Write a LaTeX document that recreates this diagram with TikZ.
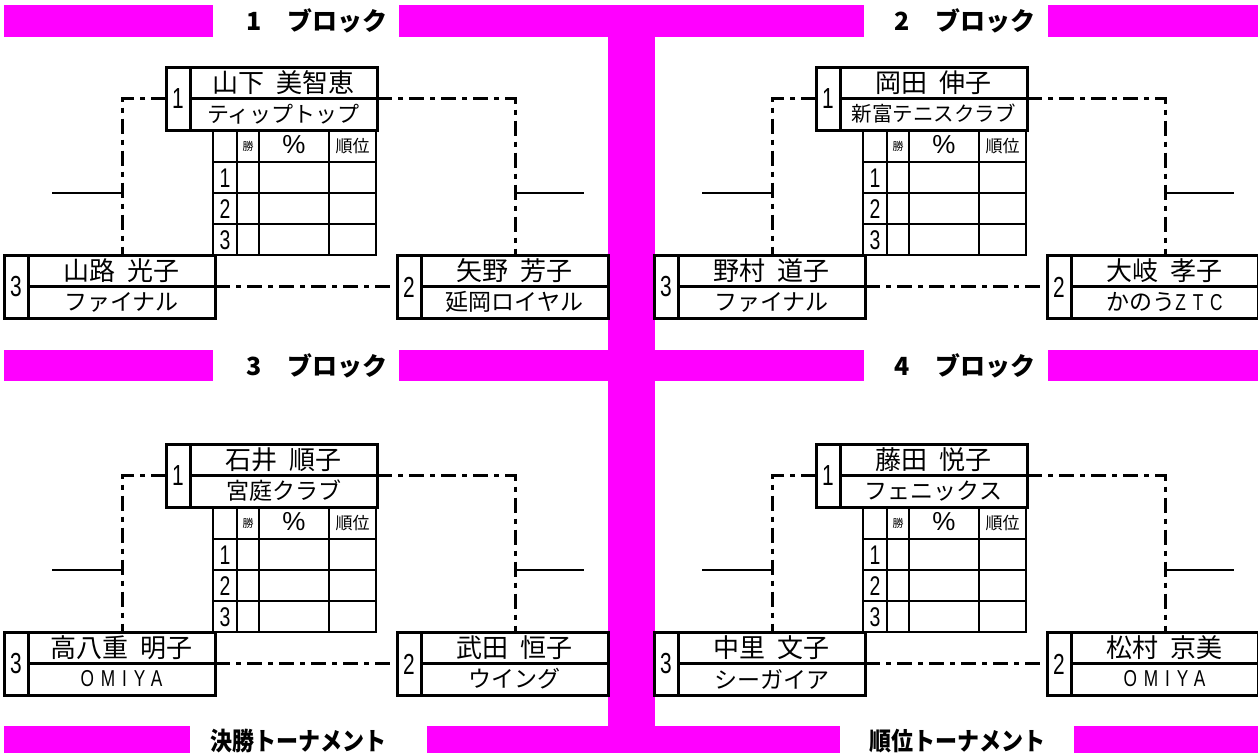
\documentclass[tikz,border=0pt]{standalone}
\usepackage{fontspec}
\usetikzlibrary{calc}
\newfontfamily\jp{Noto Sans CJK JP}
\newfontfamily\arn[FakeStretch=0.72]{Liberation Sans}
\newfontfamily\arls[FakeStretch=0.75,LetterSpace=30]{Liberation Sans}
\newfontfamily\ar{Liberation Sans}
\definecolor{mag}{RGB}{255,0,255}

\tikzset{
 every node/.style={inner sep=0pt, outer sep=0pt},
 bar/.style={fill=mag, draw=none},
 pbox/.style={draw, line width=3pt, minimum width=211pt, minimum height=63pt, anchor=north west},
 sepl/.style={line width=3pt},
 dd/.style={line width=3pt, dash pattern=on 15pt off 6pt on 5pt off 6pt},
 stub/.style={line width=2.6pt},
 tgrid/.style={line width=1.2pt},
 hd/.style={font=\jp\bfseries\fontsize{25}{25}\selectfont},
 hdb/.style={font=\jp\bfseries\fontsize{25}{25}\selectfont, xscale=0.88},
 nm/.style={font=\jp\fontsize{26}{26}\selectfont},
 cl/.style={font=\jp\fontsize{23}{23}\selectfont},
 sd/.style={font=\arn\fontsize{29}{29}\selectfont},
 tn/.style={font=\arn\fontsize{27}{27}\selectfont},
}

% #1 id, #2 x, #3 y, #4 seed, #5 name, #6 club
\newcommand\plbox[6]{%
 \node[pbox] (#1) at (#2,#3) {};
 \draw[sepl] ([xshift=24pt]#1.north west) -- ([xshift=24pt]#1.south west);
 \draw[sepl] ([xshift=24pt]#1.west) -- (#1.east);
 \node[sd] (#1-s) at (#2+12,#3+32) {#4};
 \node[nm] (#1-n) at (#2+117.5,#3+16) {\spaceskip=12pt\relax #5};
 \node[cl] (#1-c) at (#2+117.5,#3+47) {#6};
}

% #1 prefix, #2 dx, #3 dy, #4/#5 seed1, #6/#7 seed2, #8/#9 seed3
\newcommand\myblock[9]{%
\begin{scope}[shift={(#2,#3)}]
 \plbox{#1a}{166}{67}{1}{#4}{#5}
 \plbox{#1c}{4}{255}{3}{#8}{#9}
 \plbox{#1b}{397}{255}{2}{#6}{#7}
 % table
 \draw[tgrid] (213,130) rectangle (376,255);
 \foreach \x in {237,259,329} \draw[tgrid] (\x,130) -- (\x,255);
 \foreach \y in {162,193,224} \draw[tgrid] (213,\y) -- (376,\y);
 \node[font=\jp\fontsize{11}{11}\selectfont] (#1t-w) at (248,146) {勝};
 \node[font=\ar\fontsize{26}{26}\selectfont] (#1t-p) at (294,145) {\%};
 \node[font=\jp\fontsize{17}{17}\selectfont] (#1t-r) at (352.5,146) {順位};
 \node[tn] (#1t-1) at (225,178) {1};
 \node[tn] (#1t-2) at (225,209) {2};
 \node[tn] (#1t-3) at (225,240) {3};
 % connectors
 \coordinate (#1lc) at (122,255);
 \coordinate (#1rc) at (515,255);
 \coordinate (#1lj) at (122,193);
 \coordinate (#1le) at (52,193);
 \coordinate (#1rj) at (515,193);
 \coordinate (#1re) at (584,193);
 \draw[dd] (#1a.west) -| (#1lc);
 \draw[dd] (#1a.east) -| (#1rc);
 \draw[dd] (#1c.east) -- (#1b.west);
 \draw[stub] (#1lj) -- (#1le);
 \draw[stub] (#1rj) -- (#1re);
\end{scope}}

\begin{document}
\begin{tikzpicture}[x=1pt,y=-1pt]
\useasboundingbox (0,0) rectangle (1258,753);
% magenta frame
\fill[bar] (608,5) rectangle (655,753);
\fill[bar] (4,5) rectangle (213,37);
\fill[bar] (399,5) rectangle (864,37);
\fill[bar] (1048,5) rectangle (1258,37);
\fill[bar] (4,350) rectangle (213,381);
\fill[bar] (399,350) rectangle (864,381);
\fill[bar] (1048,350) rectangle (1258,381);
\fill[bar] (4,726) rectangle (190,753);
\fill[bar] (427,726) rectangle (840,753);
\fill[bar] (1074,726) rectangle (1258,753);
\node[hd] (h1) at (317,21) {1　ブロック};
\node[hd] (h2) at (965,21) {2　ブロック};
\node[hd] (h3) at (317,366) {3　ブロック};
\node[hd] (h4) at (965,366) {4　ブロック};
\node[hdb] (h5) at (298,741) {決勝トーナメント};
\node[hdb] (h6) at (957,741) {順位トーナメント};

\myblock{A}{0}{0}{山下 美智恵}{\fontsize{22}{22}\selectfont ティップトップ}{矢野 芳子}{延岡ロイヤル}{山路 光子}{ファイナル}
\myblock{B}{650}{0}{岡田 伸子}{\fontsize{20.5}{20.5}\selectfont 新富テニスクラブ}{大岐 孝子}{かのう{\arls ZTC}}{野村 道子}{ファイナル}
\myblock{C}{0}{377}{石井 順子}{宮庭クラブ}{武田 恒子}{ウイング}{高八重 明子}{{\arls OMIYA}}
\myblock{D}{650}{377}{藤田 悦子}{フェニックス}{松村 京美}{{\arls OMIYA}}{中里 文子}{シーガイア}
\end{tikzpicture}
\end{document}
